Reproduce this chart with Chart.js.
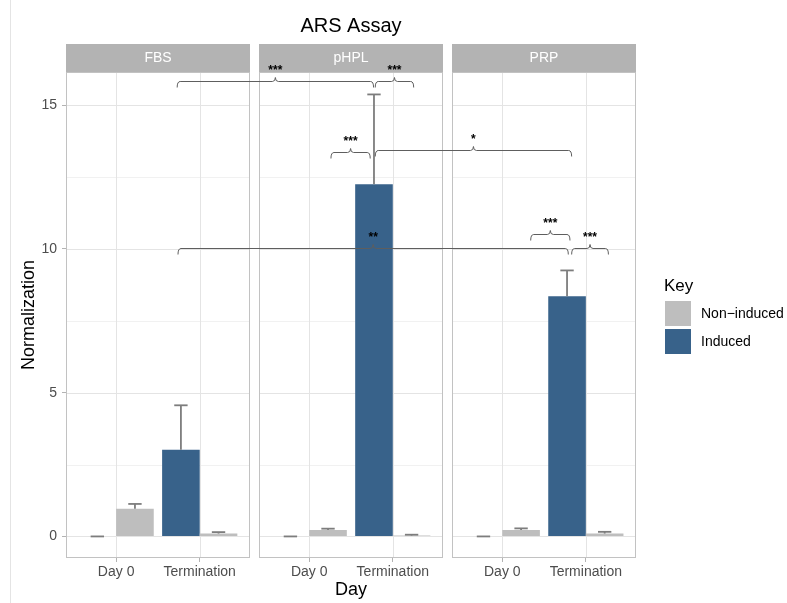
<!DOCTYPE html>
<html>
<head>
<meta charset="utf-8">
<script src="https://cdn.jsdelivr.net/npm/chart.js@4.4.1/dist/chart.umd.min.js"></script>
<style>
  html, body { margin: 0; padding: 0; background: #ffffff; }
  #wrap { position: relative; width: 787px; height: 603px; }
  #frame { position: absolute; left: 10px; top: 0; height: 603px; border-left: 1px solid #e4e4e4; }
</style>
</head>
<body>
<div id="wrap">
  <canvas id="chart" width="787" height="603"></canvas>
  <div id="frame"></div>
</div>
<script>
// ---- data -------------------------------------------------------------
const panels = ['FBS', 'pHPL', 'PRP'];
const days = ['Day 0', 'Termination'];
const seriesNames = ['Non\u2212induced', 'Induced'];

// values in panel order: FBS Day 0, FBS Termination, pHPL Day 0, pHPL Termination, PRP Day 0, PRP Termination
const nonInducedMean = [0.96, 0.10, 0.22, 0.03, 0.22, 0.10];
const nonInducedSD   = [0.17, 0.05, 0.05, 0.03, 0.06, 0.06];
const inducedMean    = [0.00, 3.01, 0.00, 12.25, 0.00, 8.35];
const inducedSD      = [0.00, 1.55, 0.00, 3.12, 0.00, 0.90];

const yTicks = [0, 5, 10, 15];
const yMinorTicks = [2.5, 7.5, 12.5];

// significance brackets: endpoints as [panel, position on the day axis], bracket height, label
const bracketStart  = [[0, 1.73], [1, 1.79], [1, 1.26], [1, 1.79], [2, 1.34], [2, 1.83], [0, 1.74]];
const bracketEnd    = [[1, 1.77], [1, 2.25], [1, 1.73], [2, 1.83], [2, 1.81], [2, 2.27], [2, 1.79]];
const bracketHeight = [15.84, 15.84, 13.37, 13.44, 10.51, 10.04, 10.03];
const bracketLabel  = ['***', '***', '***', '*', '***', '***', '**'];

// ---- layout constants ---------------------------------------------------
const PANEL_STEP = 2.31;   // day-axis units from one facet to the next (2.2 wide + gap)
const DODGE = 0.225;       // half of the dodge width
const X_MIN = 0.4, X_MAX = 2 * PANEL_STEP + 2.6;
const FONT = '"Liberation Sans", Arial, Helvetica, sans-serif';
const COLORS = { 'Non\u2212induced': '#bebebe', 'Induced': '#38628a' };

function xFor(index, shift) {
  const panel = Math.floor(index / 2);
  return panel * PANEL_STEP + (index % 2) + 1 + shift;
}
function points(means, shift) {
  return means.map((m, i) => ({ x: xFor(i, shift), y: m }));
}

const xTickValues = [];
panels.forEach((_, p) => days.forEach((_, d) => xTickValues.push(p * PANEL_STEP + d + 1)));

// ---- plugins ------------------------------------------------------------
function hline(ctx, x1, x2, y) {
  ctx.beginPath(); ctx.moveTo(x1, y); ctx.lineTo(x2, y); ctx.stroke();
}
function vline(ctx, x, y1, y2) {
  ctx.beginPath(); ctx.moveTo(x, y1); ctx.lineTo(x, y2); ctx.stroke();
}

// facet panels: grid, border and strip header
const facetPlugin = {
  id: 'facets',
  beforeDatasetsDraw(chart) {
    const { ctx, chartArea: a, scales: { x, y } } = chart;
    ctx.save();
    panels.forEach((name, p) => {
      const L = Math.round(x.getPixelForValue(p * PANEL_STEP + X_MIN));
      const R = Math.round(x.getPixelForValue(p * PANEL_STEP + 2.6));
      ctx.strokeStyle = '#f1f1f1'; ctx.lineWidth = 1;
      yMinorTicks.forEach(v => hline(ctx, L, R, Math.round(y.getPixelForValue(v)) + 0.5));
      ctx.strokeStyle = '#e4e4e4'; ctx.lineWidth = 1;
      yTicks.forEach(v => hline(ctx, L, R, Math.round(y.getPixelForValue(v)) + 0.5));
      days.forEach((_, d) => vline(ctx, Math.round(x.getPixelForValue(p * PANEL_STEP + d + 1)) + 0.5, a.top, a.bottom));
      ctx.strokeStyle = '#c2c2c2'; ctx.lineWidth = 1;
      ctx.strokeRect(L + 0.5, a.top + 0.5, R - L - 1, a.bottom - a.top - 1);
      // strip
      ctx.fillStyle = '#b3b3b3';
      ctx.fillRect(L, a.top - 28, R - L, 28);
      ctx.fillStyle = '#ffffff';
      ctx.font = '14px ' + FONT;
      ctx.textAlign = 'center'; ctx.textBaseline = 'middle';
      ctx.fillText(name, (L + R) / 2, a.top - 14);
    });
    ctx.restore();
  }
};

// error bars (upper only) and significance brackets
const annotatePlugin = {
  id: 'annotate',
  afterDatasetsDraw(chart) {
    const { ctx, scales: { x, y } } = chart;
    const capHalf = x.getPixelForValue(0.08) - x.getPixelForValue(0);
    ctx.save();
    ctx.strokeStyle = '#7d7d7d'; ctx.lineWidth = 1.8; ctx.lineCap = 'butt';
    [[nonInducedMean, nonInducedSD], [inducedMean, inducedSD]].forEach(([means, sds], d) => {
      const meta = chart.getDatasetMeta(d);
      means.forEach((m, i) => {
        const px = meta.data[i].x;
        const y0 = y.getPixelForValue(m), y1 = y.getPixelForValue(m + sds[i]);
        vline(ctx, px, y0, y1);
        hline(ctx, px - capHalf, px + capHalf, y1);
      });
    });
    ctx.restore();
  },
  afterDraw(chart) {
    const { ctx, scales: { x, y } } = chart;
    const drop = 6, rise = 4, r = 3;
    ctx.save();
    ctx.strokeStyle = '#5e5e5e'; ctx.lineWidth = 1;
    bracketLabel.forEach((label, k) => {
      const x1 = x.getPixelForValue(bracketStart[k][0] * PANEL_STEP + bracketStart[k][1]);
      const x2 = x.getPixelForValue(bracketEnd[k][0] * PANEL_STEP + bracketEnd[k][1]);
      const yl = Math.round(y.getPixelForValue(bracketHeight[k])) + 0.5;
      const xm = (x1 + x2) / 2;
      ctx.beginPath();
      ctx.moveTo(x1, yl + drop);
      ctx.quadraticCurveTo(x1, yl, x1 + r, yl);
      ctx.lineTo(xm - r, yl);
      ctx.quadraticCurveTo(xm, yl, xm, yl - rise);
      ctx.quadraticCurveTo(xm, yl, xm + r, yl);
      ctx.lineTo(x2 - r, yl);
      ctx.quadraticCurveTo(x2, yl, x2, yl + drop);
      ctx.stroke();
      ctx.fillStyle = '#000000';
      ctx.font = 'bold 12px ' + FONT;
      ctx.textAlign = 'center'; ctx.textBaseline = 'alphabetic';
      ctx.fillText(label, xm, yl - 8);
    });
    // legend
    ctx.fillStyle = '#000000';
    ctx.textAlign = 'left'; ctx.textBaseline = 'middle';
    ctx.font = '17px ' + FONT;
    ctx.fillText('Key', 664, 286);
    ctx.font = '14px ' + FONT;
    seriesNames.forEach((name, i) => {
      const top = 301 + i * 28;
      ctx.fillStyle = COLORS[name];
      ctx.fillRect(665, top, 26, 25);
      ctx.fillStyle = '#000000';
      ctx.fillText(name, 701, top + 13);
    });
    ctx.restore();
  }
};

// ---- chart --------------------------------------------------------------
Chart.defaults.font.family = FONT;

new Chart(document.getElementById('chart'), {
  type: 'bar',
  data: {
    datasets: [
      {
        label: seriesNames[0],
        data: points(nonInducedMean, DODGE),
        backgroundColor: COLORS[seriesNames[0]],
      },
      {
        label: seriesNames[1],
        data: points(inducedMean, -DODGE),
        backgroundColor: COLORS[seriesNames[1]],
      }
    ]
  },
  options: {
    responsive: false,
    animation: false,
    devicePixelRatio: 1,
    layout: { padding: { left: 0, right: 151, top: 0, bottom: 0 } },
    datasets: {
      bar: { grouped: false, categoryPercentage: 1, barPercentage: 1, borderWidth: 0, inflateAmount: 0 }
    },
    plugins: {
      legend: { display: false },
      tooltip: { enabled: false },
      title: {
        display: true,
        text: 'ARS Assay',
        fullSize: false,
        color: '#000000',
        font: { size: 20, weight: 'normal' },
        padding: { top: 14, bottom: 34 }
      }
    },
    scales: {
      x: {
        type: 'linear',
        min: X_MIN,
        max: X_MAX,
        offset: false,
        afterBuildTicks: scale => { scale.ticks = xTickValues.map(v => ({ value: v })); },
        afterFit: scale => { scale.height = 45; },
        grid: { display: true, drawOnChartArea: false, drawTicks: true, tickLength: 4, color: '#b3b3b3', offset: false },
        border: { display: false },
        ticks: {
          autoSkip: false, maxRotation: 0, padding: 2,
          color: '#4d4d4d', font: { size: 14 },
          callback: (value, index) => days[index % 2]
        },
        title: { display: true, text: 'Day', color: '#000000', font: { size: 18 }, padding: { top: 0, bottom: 2 } }
      },
      y: {
        type: 'linear',
        min: -0.75,
        max: 16.15,
        afterBuildTicks: scale => { scale.ticks = yTicks.map(v => ({ value: v })); },
        afterFit: scale => { scale.width = 66; },
        grid: { display: true, drawOnChartArea: false, drawTicks: true, tickLength: 4, color: '#b3b3b3' },
        border: { display: false },
        ticks: { padding: 5, color: '#4d4d4d', font: { size: 14 } },
        title: { display: true, text: 'Normalization', color: '#000000', font: { size: 18 }, padding: { top: 18, bottom: 0 } }
      }
    }
  },
  plugins: [facetPlugin, annotatePlugin]
});
</script>
</body>
</html>
